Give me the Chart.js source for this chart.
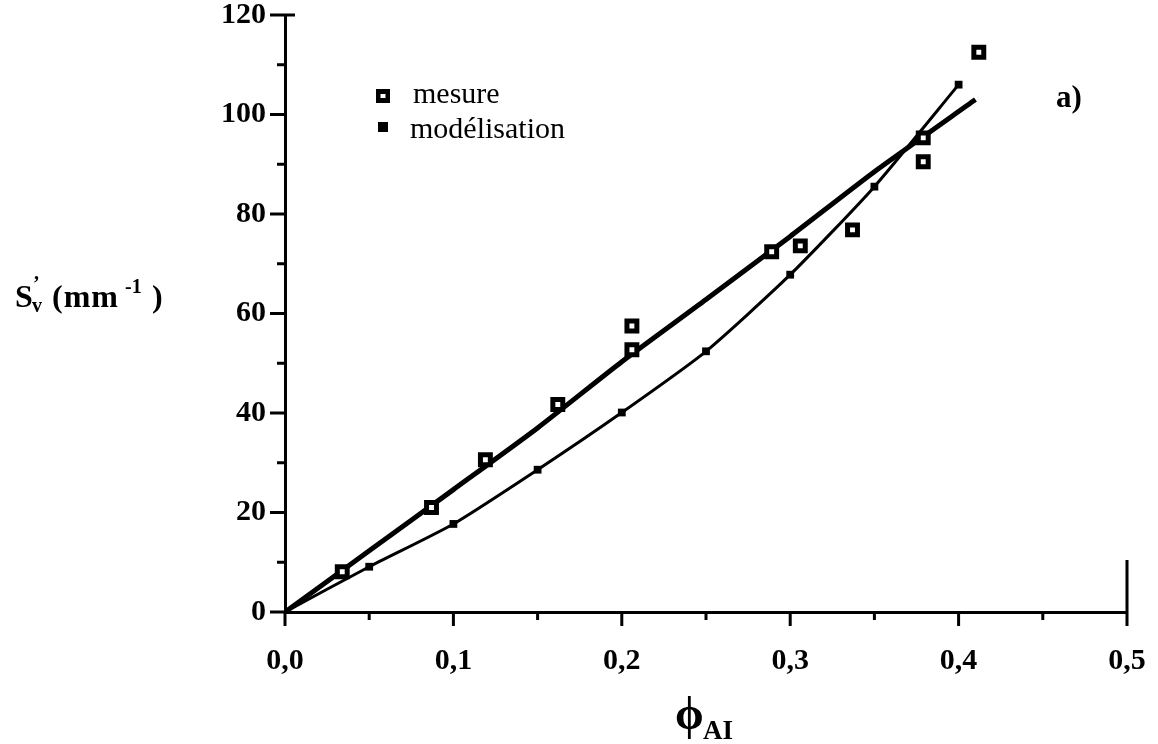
<!DOCTYPE html>
<html>
<head>
<meta charset="utf-8">
<script src="https://cdn.jsdelivr.net/npm/chart.js@4.4.1/dist/chart.umd.min.js"></script>
<style>
  html, body { margin: 0; padding: 0; background: #ffffff; }
  #wrap { width: 1158px; height: 744px; position: relative; }
</style>
</head>
<body>
<div id="wrap"><canvas id="c" width="1158" height="744"></canvas></div>
<script>
// Measured specific surface S'v versus volume fraction phi_AI
const mesureX = [0.034, 0.087, 0.119, 0.162, 0.206, 0.206, 0.289, 0.306, 0.337, 0.379, 0.379, 0.412];
const mesureY = [8.1, 21.0, 30.6, 41.7, 57.5, 52.7, 72.4, 73.6, 76.8, 95.3, 90.5, 112.5];

// Fitted curve through the measurements
const fitX = [0, 0.05, 0.1, 0.15, 0.2, 0.25, 0.3, 0.35, 0.41];
const fitY = [0, 12.3, 24.6, 37.0, 50.3, 62.8, 75.5, 88.5, 103.0];

// Model values
const modelX = [0, 0.05, 0.1, 0.15, 0.2, 0.25, 0.3, 0.35, 0.4];
const modelY = [0, 9.1, 17.7, 28.6, 40.1, 52.4, 67.8, 85.5, 106.0];

// Axis tick values
const xTicks = [0, 0.1, 0.2, 0.3, 0.4, 0.5];
const xMinorTicks = [0.05, 0.15, 0.25, 0.35, 0.45];
const yTicks = [0, 20, 40, 60, 80, 100, 120];
const yMinorTicks = [10, 30, 50, 70, 90, 110];

const legendLabels = ['mesure', 'modélisation'];
const panelLabel = 'a)';

const SERIF = '"Liberation Serif", "Times New Roman", serif';

const toPoints = (xs, ys) => xs.map((x, i) => ({ x: x, y: ys[i] }));

// Ticks, end mark, legend and axis titles
const decorations = {
  id: 'decorations',
  afterDraw(chart) {
    const ctx = chart.ctx;
    const xs = chart.scales.x, ys = chart.scales.y;
    const x0 = xs.getPixelForValue(0);
    const y0 = ys.getPixelForValue(0);
    ctx.save();
    ctx.strokeStyle = '#000';
    ctx.fillStyle = '#000';
    ctx.lineWidth = 3;
    ctx.lineCap = 'butt';
    ctx.beginPath();
    yTicks.forEach(v => { const p = ys.getPixelForValue(v); ctx.moveTo(x0 - 15, p); ctx.lineTo(x0, p); });
    yMinorTicks.forEach(v => { const p = ys.getPixelForValue(v); ctx.moveTo(x0 - 8, p); ctx.lineTo(x0, p); });
    const yTop = ys.getPixelForValue(120);
    ctx.moveTo(x0, yTop); ctx.lineTo(x0 + 10, yTop);
    xTicks.forEach(v => { const p = xs.getPixelForValue(v); ctx.moveTo(p, y0); ctx.lineTo(p, y0 + 14); });
    xMinorTicks.forEach(v => { const p = xs.getPixelForValue(v); ctx.moveTo(p, y0); ctx.lineTo(p, y0 + 8); });
    const xEnd = xs.getPixelForValue(0.5);
    ctx.moveTo(xEnd, y0 - 52); ctx.lineTo(xEnd, y0);
    ctx.stroke();

    // legend
    const lx = 383;
    ctx.fillStyle = '#000';
    ctx.fillRect(lx - 7, 96 - 7, 14, 14);
    ctx.fillStyle = '#fff';
    ctx.fillRect(lx - 2.5, 96 - 2, 5, 4);
    ctx.fillStyle = '#000';
    ctx.fillRect(lx - 5, 127 - 5, 10, 10);
    ctx.font = '30px ' + SERIF;
    ctx.textBaseline = 'alphabetic';
    ctx.textAlign = 'left';
    ctx.fillText(legendLabels[0], 413, 103);
    ctx.fillText(legendLabels[1], 410, 138);

    // panel label
    ctx.font = 'bold 31px ' + SERIF;
    ctx.fillText(panelLabel, 1056, 107);

    // y title: S'v (mm-1)
    ctx.font = 'bold 32px ' + SERIF;
    ctx.fillText('S', 15, 307);
    ctx.font = 'bold 20px ' + SERIF;
    ctx.fillText('\u2019', 33, 290);
    ctx.font = 'bold 20px ' + SERIF;
    ctx.fillText('v', 32, 312);
    ctx.font = 'bold 32px ' + SERIF;
    ctx.letterSpacing = '1px';
    ctx.fillText('(mm', 52, 307);
    ctx.letterSpacing = '0px';
    ctx.font = 'bold 20px ' + SERIF;
    ctx.fillText('-1', 125, 293);
    ctx.font = 'bold 32px ' + SERIF;
    ctx.fillText(')', 152, 307);

    // x title: phi_AI
    ctx.font = 'bold 46px ' + SERIF;
    ctx.fillText('\u03D5', 675, 729);
    ctx.font = 'bold 27px ' + SERIF;
    ctx.fillText('AI', 703, 739);
    ctx.restore();
  }
};

const tickFont = { family: SERIF, size: 30, weight: 'bold' };

new Chart(document.getElementById('c'), {
  type: 'scatter',
  data: {
    datasets: [
      {
        label: 'fit',
        data: toPoints(fitX, fitY),
        showLine: true,
        borderColor: '#000',
        borderWidth: 5,
        pointRadius: 0,
        tension: 0.2,
        order: 3
      },
      {
        label: legendLabels[1],
        data: toPoints(modelX, modelY),
        showLine: true,
        borderColor: '#000',
        borderWidth: 3,
        backgroundColor: '#000',
        pointStyle: 'rect',
        pointRadius: 5.5,
        pointBorderWidth: 0,
        tension: 0.2,
        order: 2
      },
      {
        label: legendLabels[0],
        data: toPoints(mesureX, mesureY),
        showLine: false,
        pointStyle: 'rect',
        pointRadius: 7,
        pointBackgroundColor: '#fff',
        pointBorderColor: '#000',
        pointBorderWidth: 5,
        order: 1
      }
    ]
  },
  options: {
    responsive: false,
    animation: false,
    events: [],
    layout: { padding: { left: 0, right: 31, top: 15, bottom: 0 } },
    plugins: { legend: { display: false }, tooltip: { enabled: false } },
    scales: {
      x: {
        type: 'linear',
        min: 0, max: 0.5,
        afterFit: s => { s.height = 132; s.paddingLeft = 0; s.paddingRight = 0; },
        afterBuildTicks: s => { s.ticks = xTicks.map(v => ({ value: v })); },
        border: { display: true, color: '#000', width: 3 },
        grid: { display: false, drawTicks: false },
        ticks: {
          color: '#000', font: tickFont, padding: 31, maxRotation: 0, autoSkip: false,
          callback: v => v.toFixed(1).replace('.', ',')
        }
      },
      y: {
        type: 'linear',
        min: 0, max: 120,
        afterFit: s => { s.width = 285; s.paddingTop = 0; s.paddingBottom = 0; },
        afterBuildTicks: s => { s.ticks = yTicks.map(v => ({ value: v })); },
        border: { display: true, color: '#000', width: 3 },
        grid: { display: false, drawTicks: false },
        ticks: { color: '#000', font: tickFont, padding: 19, autoSkip: false, callback: v => String(v) }
      }
    }
  },
  plugins: [decorations]
});
</script>
</body>
</html>
